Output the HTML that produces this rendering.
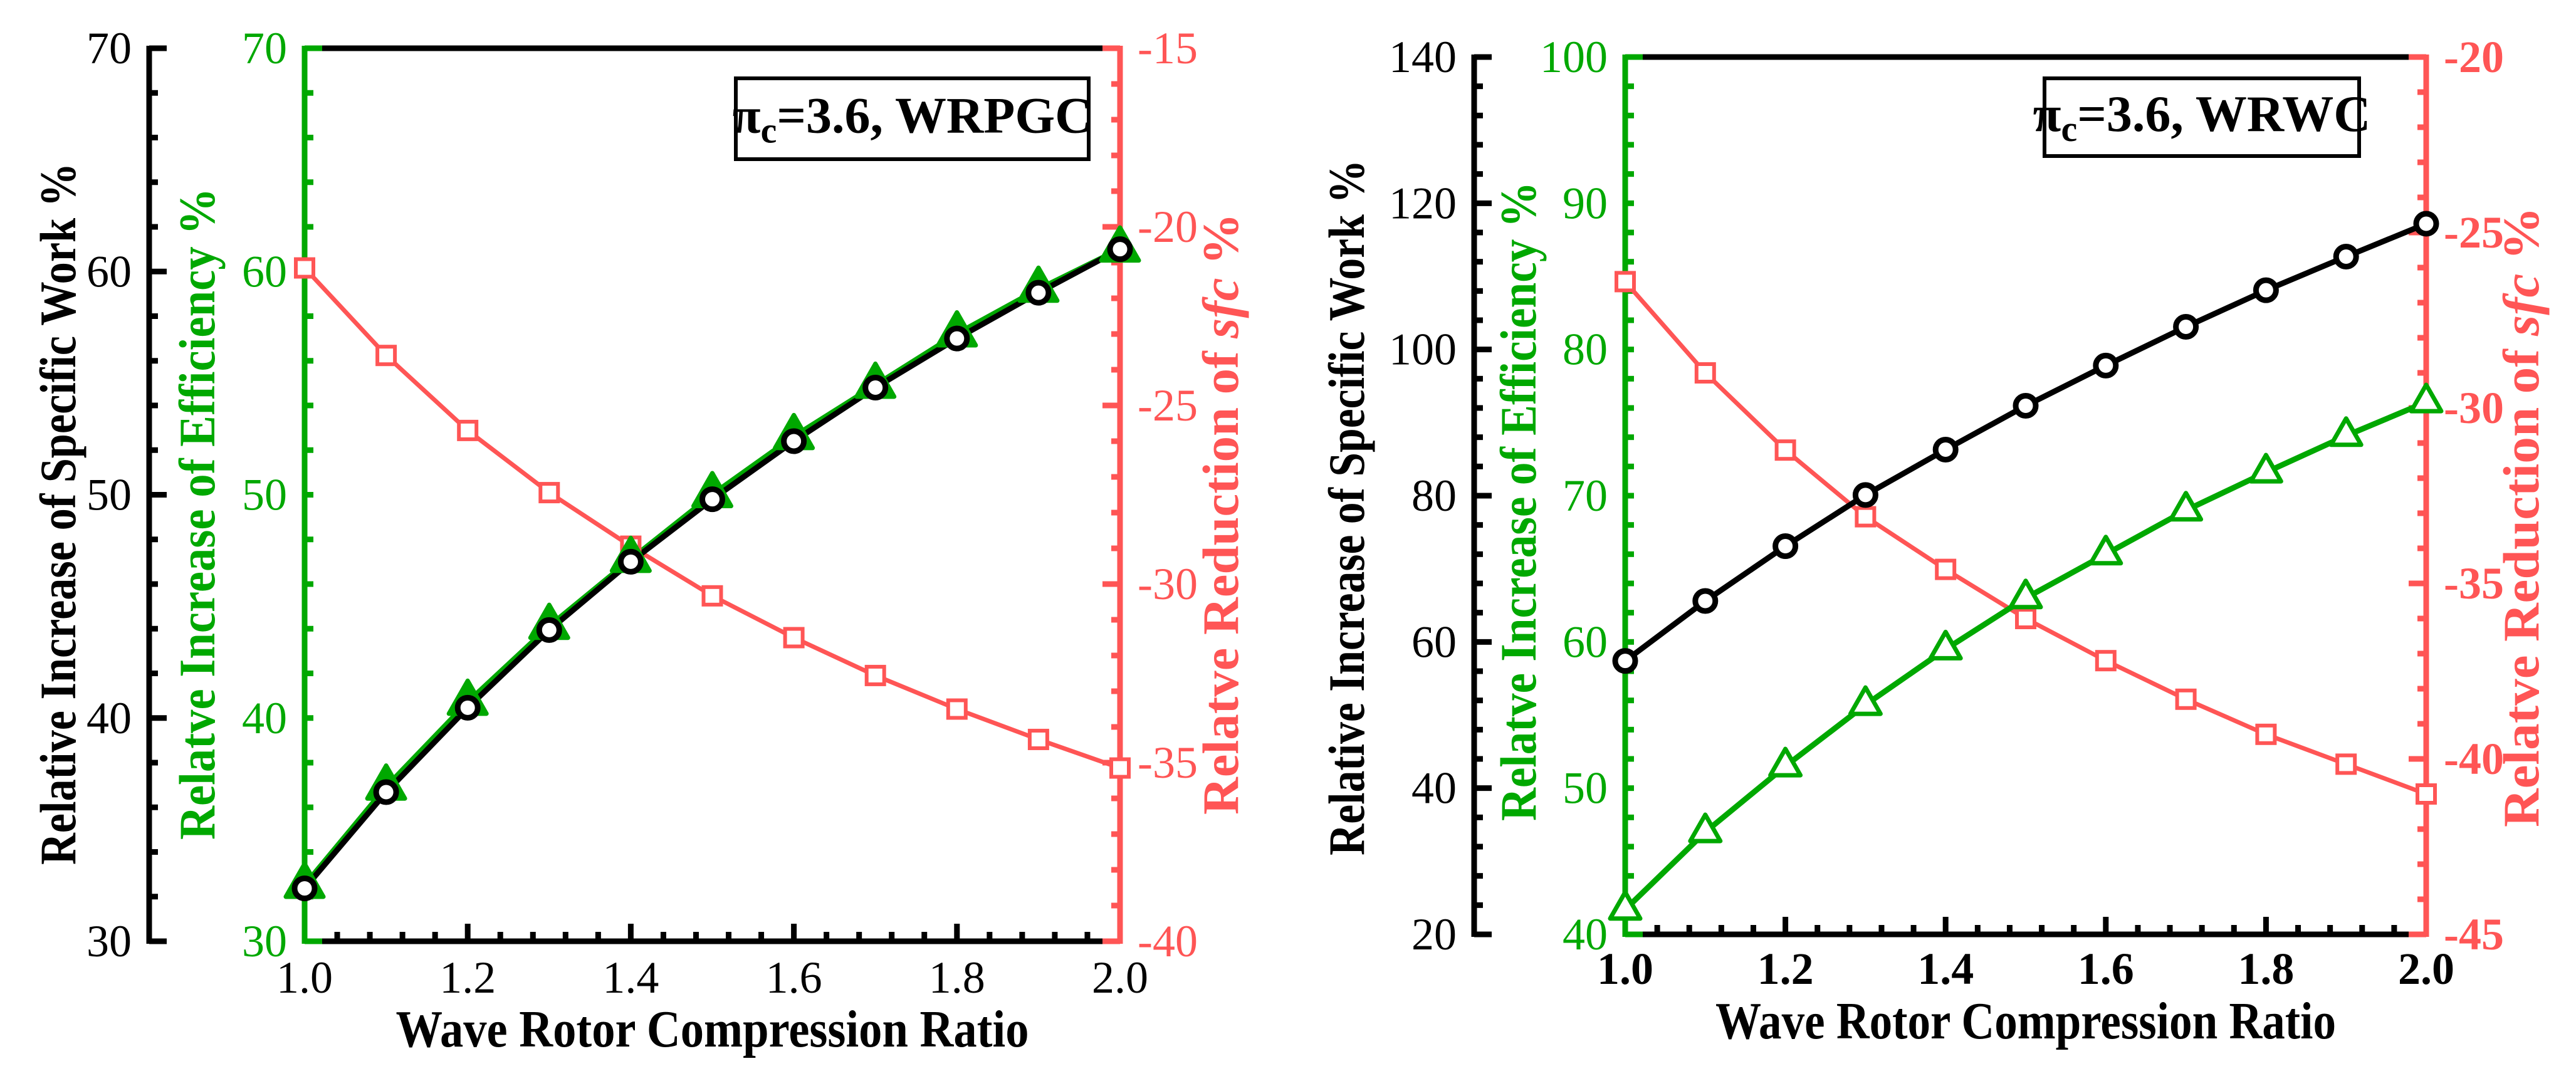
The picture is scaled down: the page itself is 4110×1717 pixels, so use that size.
<!DOCTYPE html>
<html><head><meta charset="utf-8"><style>
html,body{margin:0;padding:0;background:#fff}
svg{display:block}
text{font-family:"Liberation Serif",serif}
</style></head><body>
<svg id="chart" width="4110" height="1717" viewBox="0 0 4110 1717" xmlns="http://www.w3.org/2000/svg"></svg>
<script>
const xCategories=[1.0,1.1,1.2,1.3,1.4,1.5,1.6,1.7,1.8,1.9,2.0];
const xTickLabels=["1.0","1.2","1.4","1.6","1.8","2.0"];
// Left panel (WRPGC)
const leftWork=[32.37,36.68,40.46,43.94,47.0,49.8,52.4,54.8,57.0,59.05,61.0];
const leftEff=[32.5,36.9,40.7,44.1,47.1,50.0,52.6,54.9,57.2,59.2,61.0];
const leftSfc=[-21.15,-23.6,-25.7,-27.44,-28.94,-30.33,-31.5,-32.56,-33.5,-34.35,-35.15];
const leftWorkTicks=["30","40","50","60","70"];
const leftEffTicks=["30","40","50","60","70"];
const leftSfcTicks=["-40","-35","-30","-25","-20","-15"];
// Right panel (WRWC)
const rightWork=[57.4,65.6,73.1,80.1,86.3,92.3,97.8,103.1,108.1,112.7,117.2];
const rightEff=[41.7,47.0,51.5,55.7,59.5,63.0,66.0,69.0,71.6,74.1,76.4];
const rightSfc=[-26.4,-29.0,-31.2,-33.1,-34.6,-36.0,-37.2,-38.3,-39.3,-40.15,-41.0];
const rightWorkTicks=["20","40","60","80","100","120","140"];
const rightEffTicks=["40","50","60","70","80","90","100"];
const rightSfcTicks=["-45","-40","-35","-30","-25","-20"];

const NS="http://www.w3.org/2000/svg";
const svg=document.getElementById('chart');
const GREEN="#00a800",RED="#ff5555",BLACK="#000";
function mk(tag,attrs,parent){const e=document.createElementNS(NS,tag);for(const k in attrs)e.setAttribute(k,attrs[k]);(parent||svg).appendChild(e);return e;}

function panel(p){
  const g=mk('g',{});
  
  
  const X=v=>p.x0+(v-1)/(1)*(p.x1-p.x0);
  const Yw=v=>p.yb-(v-p.w[0])/(p.w[1]-p.w[0])*(p.yb-p.yt);
  const Ye=v=>p.yb-(v-p.e[0])/(p.e[1]-p.e[0])*(p.yb-p.yt);
  const Ys=v=>p.yb-(v-p.s[0])/(p.s[1]-p.s[0])*(p.yb-p.yt);
  const LW=9, FS=72;
  let l=mk('line',{x1:p.x0,y1:p.yt,x2:p.x1,y2:p.yt,stroke:BLACK,'stroke-width':LW},g);
  
  l=mk('line',{x1:p.x0,y1:p.yb,x2:p.x1,y2:p.yb,stroke:BLACK,'stroke-width':LW},g);
  
  for(let v=1.0;v<=2.0001;v+=0.04){
    const major=Math.abs((v-1)/0.2-Math.round((v-1)/0.2))<1e-6;
    const t=mk('line',{x1:X(v),y1:p.yb,x2:X(v),y2:p.yb-(major?28:15),stroke:BLACK,'stroke-width':LW},g);
    
  }
  xTickLabels.forEach(s=>{
    const t=mk('text',{x:X(parseFloat(s)),y:p.xlabY,'text-anchor':'middle','font-size':FS,'font-weight':p.boldX?'bold':'normal',fill:BLACK},g);
    t.textContent=s;
  });
  l=mk('line',{x1:p.bx,y1:p.yt-4,x2:p.bx,y2:p.yb+4,stroke:BLACK,'stroke-width':LW},g);
  
  for(let v=p.w[0];v<=p.w[1]+1e-6;v+=p.wMinor){
    const major=Math.abs((v-p.w[0])%p.wMajor)<1e-6;
    const t=mk('line',{x1:p.bx,y1:Yw(v),x2:p.bx+(major?28:14),y2:Yw(v),stroke:BLACK,'stroke-width':LW},g);
    
  }
  p.wTicks.forEach(s=>{const t=mk('text',{x:p.bx-28,y:Yw(+s)+24,'text-anchor':'end','font-size':FS,fill:BLACK},g);t.textContent=s;
    });
  l=mk('line',{x1:p.x0,y1:p.yt-4,x2:p.x0,y2:p.yb+4,stroke:GREEN,'stroke-width':LW},g);
  
  mk('line',{x1:p.x0,y1:p.yt,x2:p.x0+28,y2:p.yt,stroke:GREEN,'stroke-width':LW},g);
  mk('line',{x1:p.x0,y1:p.yb,x2:p.x0+28,y2:p.yb,stroke:GREEN,'stroke-width':LW},g);
  for(let v=p.e[0];v<=p.e[1]+1e-6;v+=p.eMinor){
    const t=mk('line',{x1:p.x0,y1:Ye(v),x2:p.x0+14,y2:Ye(v),stroke:GREEN,'stroke-width':LW},g);
    
  }
  p.eTicks.forEach(s=>{const t=mk('text',{x:p.x0-28,y:Ye(+s)+24,'text-anchor':'end','font-size':FS,fill:GREEN},g);t.textContent=s;
    });
  l=mk('line',{x1:p.x1,y1:p.yt-4,x2:p.x1,y2:p.yb+4,stroke:RED,'stroke-width':LW},g);
  
  mk('line',{x1:p.x1,y1:p.yt,x2:p.x1-28,y2:p.yt,stroke:RED,'stroke-width':LW},g);
  mk('line',{x1:p.x1,y1:p.yb,x2:p.x1-28,y2:p.yb,stroke:RED,'stroke-width':LW},g);
  for(let v=p.s[0];v<=p.s[1]+1e-6;v+=1){
    const major=Math.abs((v-p.s[0])%5)<1e-6;
    const t=mk('line',{x1:p.x1,y1:Ys(v),x2:p.x1-(major?28:14),y2:Ys(v),stroke:RED,'stroke-width':LW},g);
    
  }
  p.sTicks.forEach(s=>{const t=mk('text',{x:p.x1+28,y:Ys(+s)+24,'text-anchor':'start','font-size':FS,'font-weight':p.boldX?'bold':'normal',fill:RED},g);t.textContent=s;
    });
  let t=mk('text',{x:(p.x0+p.x1)/2,y:p.xtitY,'text-anchor':'middle','font-size':84,'font-weight':'bold',fill:BLACK,textLength:p.xtitW,lengthAdjust:'spacingAndGlyphs'},g);
  t.textContent='Wave Rotor Compression Ratio';
  t=mk('text',{x:0,y:0,transform:`translate(${p.wt[0]},${p.wt[1]}) rotate(-90)`,'text-anchor':'middle','font-size':82,'font-weight':'bold',fill:BLACK,textLength:p.wt[2],lengthAdjust:'spacingAndGlyphs'},g);
  t.textContent='Relative Increase of Specific Work %';
  t=mk('text',{x:0,y:0,transform:`translate(${p.et[0]},${p.et[1]}) rotate(-90)`,'text-anchor':'middle','font-size':82,'font-weight':'bold',fill:GREEN,textLength:p.et[2],lengthAdjust:'spacingAndGlyphs'},g);
  t.textContent='Relatve Increase of Efficiency %';
  t=mk('text',{x:0,y:0,transform:`translate(${p.st[0]},${p.st[1]}) rotate(-90)`,'text-anchor':'middle','font-size':82,'font-weight':'bold',fill:RED,textLength:p.st[2],lengthAdjust:'spacingAndGlyphs'},g);
  t.innerHTML='Relatve Reduction of <tspan font-style="italic">sfc</tspan> %';
  const r=mk('rect',{x:p.lg[0],y:p.lg[1],width:p.lg[2],height:p.lg[3],fill:'#fff',stroke:BLACK,'stroke-width':6},g);
  
  t=mk('text',{x:p.lg[0]+p.lg[2]/2,y:p.lg[1]+p.lg[3]/2+22,'text-anchor':'middle','font-size':82,'font-weight':'bold',fill:BLACK},g);
  t.innerHTML='π<tspan font-size="58" dy="16">c</tspan><tspan dy="-16">=3.6, '+p.label+'</tspan>';
  
  const line=(vals,Y,col,w,name)=>{const pl=mk('polyline',{points:vals.map((v,i)=>X(xCategories[i])+','+Y(v)).join(' '),fill:'none',stroke:col,'stroke-width':w,'stroke-linejoin':'round'},g);
    };
  const S=leftOrRight(p,'sfc'),E=leftOrRight(p,'eff'),W=leftOrRight(p,'work');
  line(S,Ys,RED,7,'sfc-line');
  line(E,Ye,GREEN,9,'efficiency-line');
  line(W,Yw,BLACK,9,'work-line');
  S.forEach((v,i)=>{const m=mk('rect',{x:X(xCategories[i])-14,y:Ys(v)-14,width:28,height:28,fill:'#fff',stroke:RED,'stroke-width':6},g);
    });
  E.forEach((v,i)=>{const cx=X(xCategories[i]),cy=Ye(v),s=p.triFill?30:24;
    const m=mk('polygon',{points:`${cx},${cy-s*1.15} ${cx-s},${cy+s*0.6} ${cx+s},${cy+s*0.6}`,fill:p.triFill?GREEN:'#fff',stroke:GREEN,'stroke-width':7,'stroke-linejoin':'round'},g);
    });
  W.forEach((v,i)=>{const m=mk('circle',{cx:X(xCategories[i]),cy:Yw(v),r:16,fill:'#fff',stroke:BLACK,'stroke-width':9},g);
    });
}
function leftOrRight(p,k){
  if(p.label==='WRPGC')return k==='work'?leftWork:k==='eff'?leftEff:leftSfc;
  return k==='work'?rightWork:k==='eff'?rightEff:rightSfc;
}
panel({name:'left-panel-wrpgc',label:'WRPGC',x0:486,x1:1787,yt:77,yb:1502,bx:238,
  w:[30,70],wMinor:2,wMajor:10,wTicks:leftWorkTicks,e:[30,70],eMinor:2,eTicks:leftEffTicks,s:[-40,-15],sTicks:leftSfcTicks,
  xlabY:1584,xtitY:1670,xtitW:1010,boldX:false,triFill:true,
  wt:[120,820,1120],et:[342,820,1040],st:[1975,820,960],lg:[1174,125,563,129]});
panel({name:'right-panel-wrwc',label:'WRWC',x0:2593,x1:3871,yt:91,yb:1491,bx:2352,
  w:[20,140],wMinor:4,wMajor:20,wTicks:rightWorkTicks,e:[40,100],eMinor:2,eTicks:rightEffTicks,s:[-45,-20],sTicks:rightSfcTicks,
  xlabY:1570,xtitY:1657,xtitW:990,boldX:true,triFill:false,
  wt:[2176,810,1110],et:[2450,800,1020],st:[4050,825,990],lg:[3262,125,502,124]});
</script>
</body></html>
